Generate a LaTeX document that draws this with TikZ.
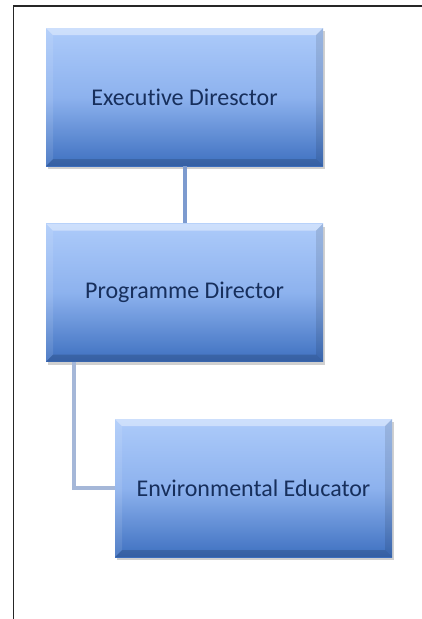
\documentclass[tikz,border=0pt]{standalone}
\usepackage{fontspec}
\setmainfont[Ligatures=NoCommon]{Carlito}
\usetikzlibrary{shadows,calc}
\definecolor{boxtop}{HTML}{ADCBFA}
\definecolor{boxmid}{HTML}{8DB2EE}
\definecolor{boxbot}{HTML}{3E70C0}
\definecolor{boxtext}{HTML}{172F5C}
\definecolor{connA}{HTML}{7D9BCF}
\definecolor{connB}{HTML}{A5B7D8}
\tikzset{
  orgbox/.style={rectangle, minimum width=277pt, minimum height=138pt, inner sep=0pt,
    top color=boxtop, bottom color=boxbot, middle color=boxmid,
    text=boxtext, font=\fontsize{24}{28}\selectfont,
    drop shadow={shadow xshift=2pt, shadow yshift=-3pt, opacity=0.3, fill=black!60},
    path picture={
      \coordinate (nw) at (path picture bounding box.north west);
      \coordinate (ne) at (path picture bounding box.north east);
      \coordinate (sw) at (path picture bounding box.south west);
      \coordinate (se) at (path picture bounding box.south east);
      \fill[white,opacity=0.4] (nw) -- (ne) -- ($(ne)+(-7pt,-7pt)$) -- ($(nw)+(7pt,-7pt)$) -- cycle;
      \fill[white,opacity=0.1] (nw) -- ($(nw)+(7pt,-7pt)$) -- ($(sw)+(7pt,7pt)$) -- (sw) -- cycle;
      \fill[black,opacity=0.1] (ne) -- ($(ne)+(-7pt,-7pt)$) -- ($(se)+(-7pt,7pt)$) -- (se) -- cycle;
      \fill[black,opacity=0.15] (sw) -- ($(sw)+(7pt,7pt)$) -- ($(se)+(-7pt,7pt)$) -- (se) -- cycle;
    }},
  connone/.style={draw=connA, line width=4pt},
  conntwo/.style={draw=connB, line width=4pt},
}
\begin{document}
\begin{tikzpicture}[x=1pt,y=-1pt]
\useasboundingbox (0,0) rectangle (422,619);
\fill[white] (0,0) rectangle (422,619);
\draw[line width=1.6pt, black!85] (13.5,619) -- (13.5,6) -- (422,6);
\node[orgbox] (ed) at (184.5,97) {Executive Diresctor};
\node[orgbox] (pd) at (184.5,292.5) {Programme Director};
\node[orgbox] (ee) at (253.5,488) {Environmental Educator};
\draw[connone] (ed.south) -- (pd.north);
\draw[conntwo] ([xshift=28pt]pd.south west) |- (ee.west);
\end{tikzpicture}
\end{document}
